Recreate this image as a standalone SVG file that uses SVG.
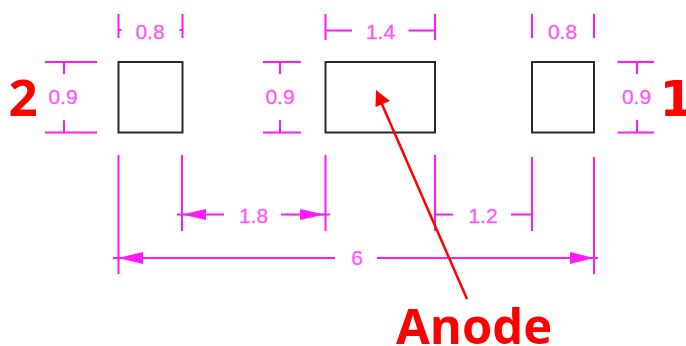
<svg xmlns="http://www.w3.org/2000/svg" width="686" height="346" viewBox="0 0 686 346">
<style>
.d{stroke:#ff19ff;stroke-width:2;fill:none}
.h{fill:#ff19ff;stroke:none}
.t{font-family:"Liberation Sans",Arial,sans-serif;font-size:21px;fill:#ff55ff;stroke:#ff55ff;stroke-width:.3;text-anchor:middle}
.r{font-family:"Open Sans","Noto Sans",sans-serif;font-weight:700;fill:#ff0000}
.b{fill:none;stroke:#2a2a2a;stroke-width:2}
</style>
<rect width="686" height="346" fill="#fff"/>
<g id="pad-2"><rect class="b" x="118.500" y="62" width="64" height="70.500"/></g>
<g id="pad-anode"><rect class="b" x="325.500" y="62" width="109.500" height="70.500"/></g>
<g id="pad-1"><rect class="b" x="532" y="62" width="62" height="70.500"/></g>
<g id="connectors">
<path class="d" d="M118.500 14V38M118.500 30H121.500M182.500 14V38M182.500 30H179.500M325.500 14V40M325.500 30.500H352M435 14V40M435 30.500H408.500M532 14V38M594 14V38"/>
<path class="d" d="M45 62H97M45 132.500H97M64 62V74M64 120V132.500M263 62H301M263 132.500H301M280 62V74M280 120V132.500M617.500 62H654M617.500 132.500H654M637 62V74M637 120V132.500"/>
<path class="d" d="M118.500 155V274M182 155V231M325.500 155V231M435 155V231M532 157V231M594 157V274"/>
<path class="d" d="M177 214.500H224M281 214.500H330M435 214.500H453M511 214.500H532M113 258H335M377 258H598"/>
<path class="h" d="M182 214.500L206 209V220ZM325 214.500L300 209V220ZM118 258L143 252V264ZM594 258L570 252V264Z"/>
<path d="M467 299L381 102" stroke="#f00" stroke-width="2.500" fill="none"/>
<path d="M376 90L390 101L375.500 107Z" fill="#f00"/>
</g>
<g id="labels">
<text class="t" x="150" y="39">0.8</text>
<text class="t" x="380.500" y="39">1.4</text>
<text class="t" x="562.500" y="39">0.8</text>
<text class="t" x="63" y="104">0.9</text>
<text class="t" x="280" y="104">0.9</text>
<text class="t" x="636.500" y="104">0.9</text>
<text class="t" x="253.500" y="223">1.8</text>
<text class="t" x="483" y="223">1.2</text>
<text class="t" x="357" y="265">6</text>
<text class="r" x="8.500" y="116" font-size="51">2</text>
<text x="659.500" y="116" font-size="49" font-weight="700" fill="#f00" font-family="'DejaVu Sans',sans-serif">1</text>
<text class="r" x="396" y="344" font-size="49">Anode</text>
</g>
</svg>
